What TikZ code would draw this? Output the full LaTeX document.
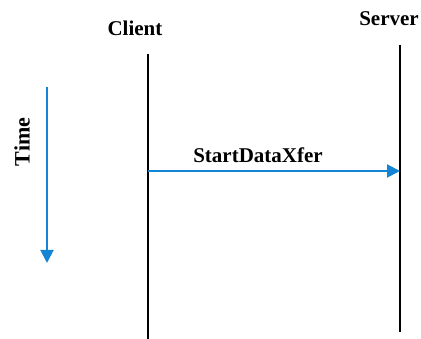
\documentclass[tikz,border=0pt]{standalone}
\usepackage{fontspec}
\setmainfont{Liberation Serif}
\usetikzlibrary{arrows.meta}
\definecolor{flowblue}{RGB}{22,132,212}
\begin{document}
\begin{tikzpicture}[x=1pt,y=1pt,
  lbl/.style={font=\fontsize{21}{25}\selectfont\bfseries, inner sep=0pt},
  lifeline/.style={line width=2pt, black},
  msg/.style={line width=2pt, flowblue, -{Triangle[length=13pt,width=13pt]}}]
  \useasboundingbox (0,0) rectangle (421,339);
  % lifelines
  \coordinate (ctop) at (148,285);
  \coordinate (cbot) at (148,0);
  \coordinate (stop) at (400,294);
  \coordinate (sbot) at (400,7);
  \draw[lifeline] (ctop) -- (cbot);
  \draw[lifeline] (stop) -- (sbot);
  \node[lbl] (client) at (135,311) {Client};
  \node[lbl] (server) at (389,320) {Server};
  % message
  \coordinate (msgfrom) at (148,168);
  \coordinate (msgto) at (400,168);
  \draw[msg] (msgfrom) -- (msgto);
  \node[lbl, anchor=base] (xfer) at (258,176) {StartDataXfer};
  % time axis
  \coordinate (tstart) at (47,252);
  \coordinate (tend) at (47,76);
  \draw[msg] (tstart) -- (tend);
  \node[lbl, rotate=90, font=\fontsize{22}{26}\selectfont\bfseries] (time) at (22,197) {Time};
\end{tikzpicture}
\end{document}
